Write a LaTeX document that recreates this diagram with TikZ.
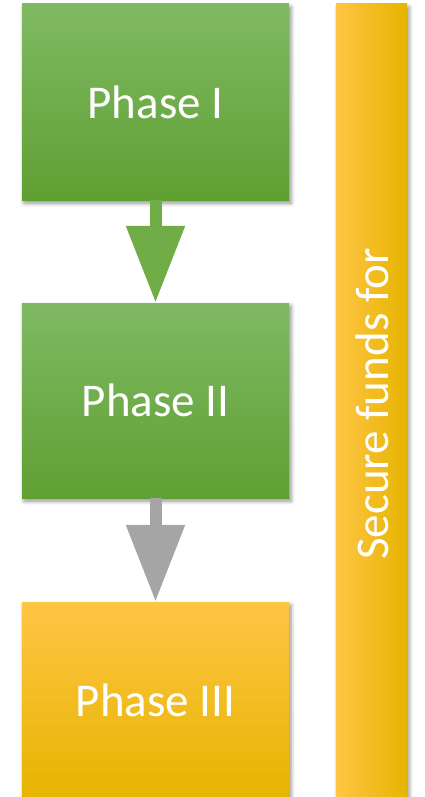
\documentclass[tikz,border=0pt]{standalone}
\usepackage{fontspec}
\setmainfont{Carlito}
\usetikzlibrary{shadows.blur,arrows.meta}
\definecolor{gtop}{HTML}{80B963}
\definecolor{gbot}{HTML}{5FA033}
\definecolor{otop}{HTML}{FFC545}
\definecolor{omid}{HTML}{FFC000}
\definecolor{obot}{HTML}{E6B400}
\definecolor{garrow}{HTML}{70AD47}
\definecolor{grayarrow}{HTML}{A5A5A5}
\tikzset{
  x=1pt, y=-1pt,
  phasebox/.style={minimum width=267pt, inner sep=0pt, text=white,
    font=\fontsize{47}{56}\selectfont,
    blur shadow={shadow xshift=2pt, shadow yshift=-3pt, shadow blur radius=4pt, shadow opacity=45}},
  greenbox/.style={phasebox, minimum height=196pt, top color=gtop, bottom color=gbot},
  orangebox/.style={phasebox, minimum height=196pt, top color=otop, middle color=omid, bottom color=obot},
  flowarrow/.style={line width=12pt, -{Triangle[width=56pt,length=77pt]}},
}
\begin{document}
\begin{tikzpicture}
\useasboundingbox (0,0) rectangle (424,797);
\node[greenbox] (p1) at (155.5,102) {Phase I};
\node[greenbox, minimum height=195pt] (p2) at (155.5,400.5) {Phase II};
\node[orangebox] (p3) at (155.5,700) {Phase III};
\node[minimum width=71pt, minimum height=794pt, inner sep=0pt,
  left color=otop, middle color=omid, right color=obot,
  blur shadow={shadow xshift=2pt, shadow yshift=-3pt, shadow blur radius=4pt, shadow opacity=45}]
  (bar) at (371.5,401) {};
\node[rotate=90, text=white, font=\fontsize{47}{56}\selectfont, inner sep=0pt] (bt) at (372.5,404) {Secure funds for};
\draw[flowarrow, garrow] (p1.south) -- (p2.north);
\draw[flowarrow, grayarrow] (p2.south) -- (p3.north);
\end{tikzpicture}
\end{document}
